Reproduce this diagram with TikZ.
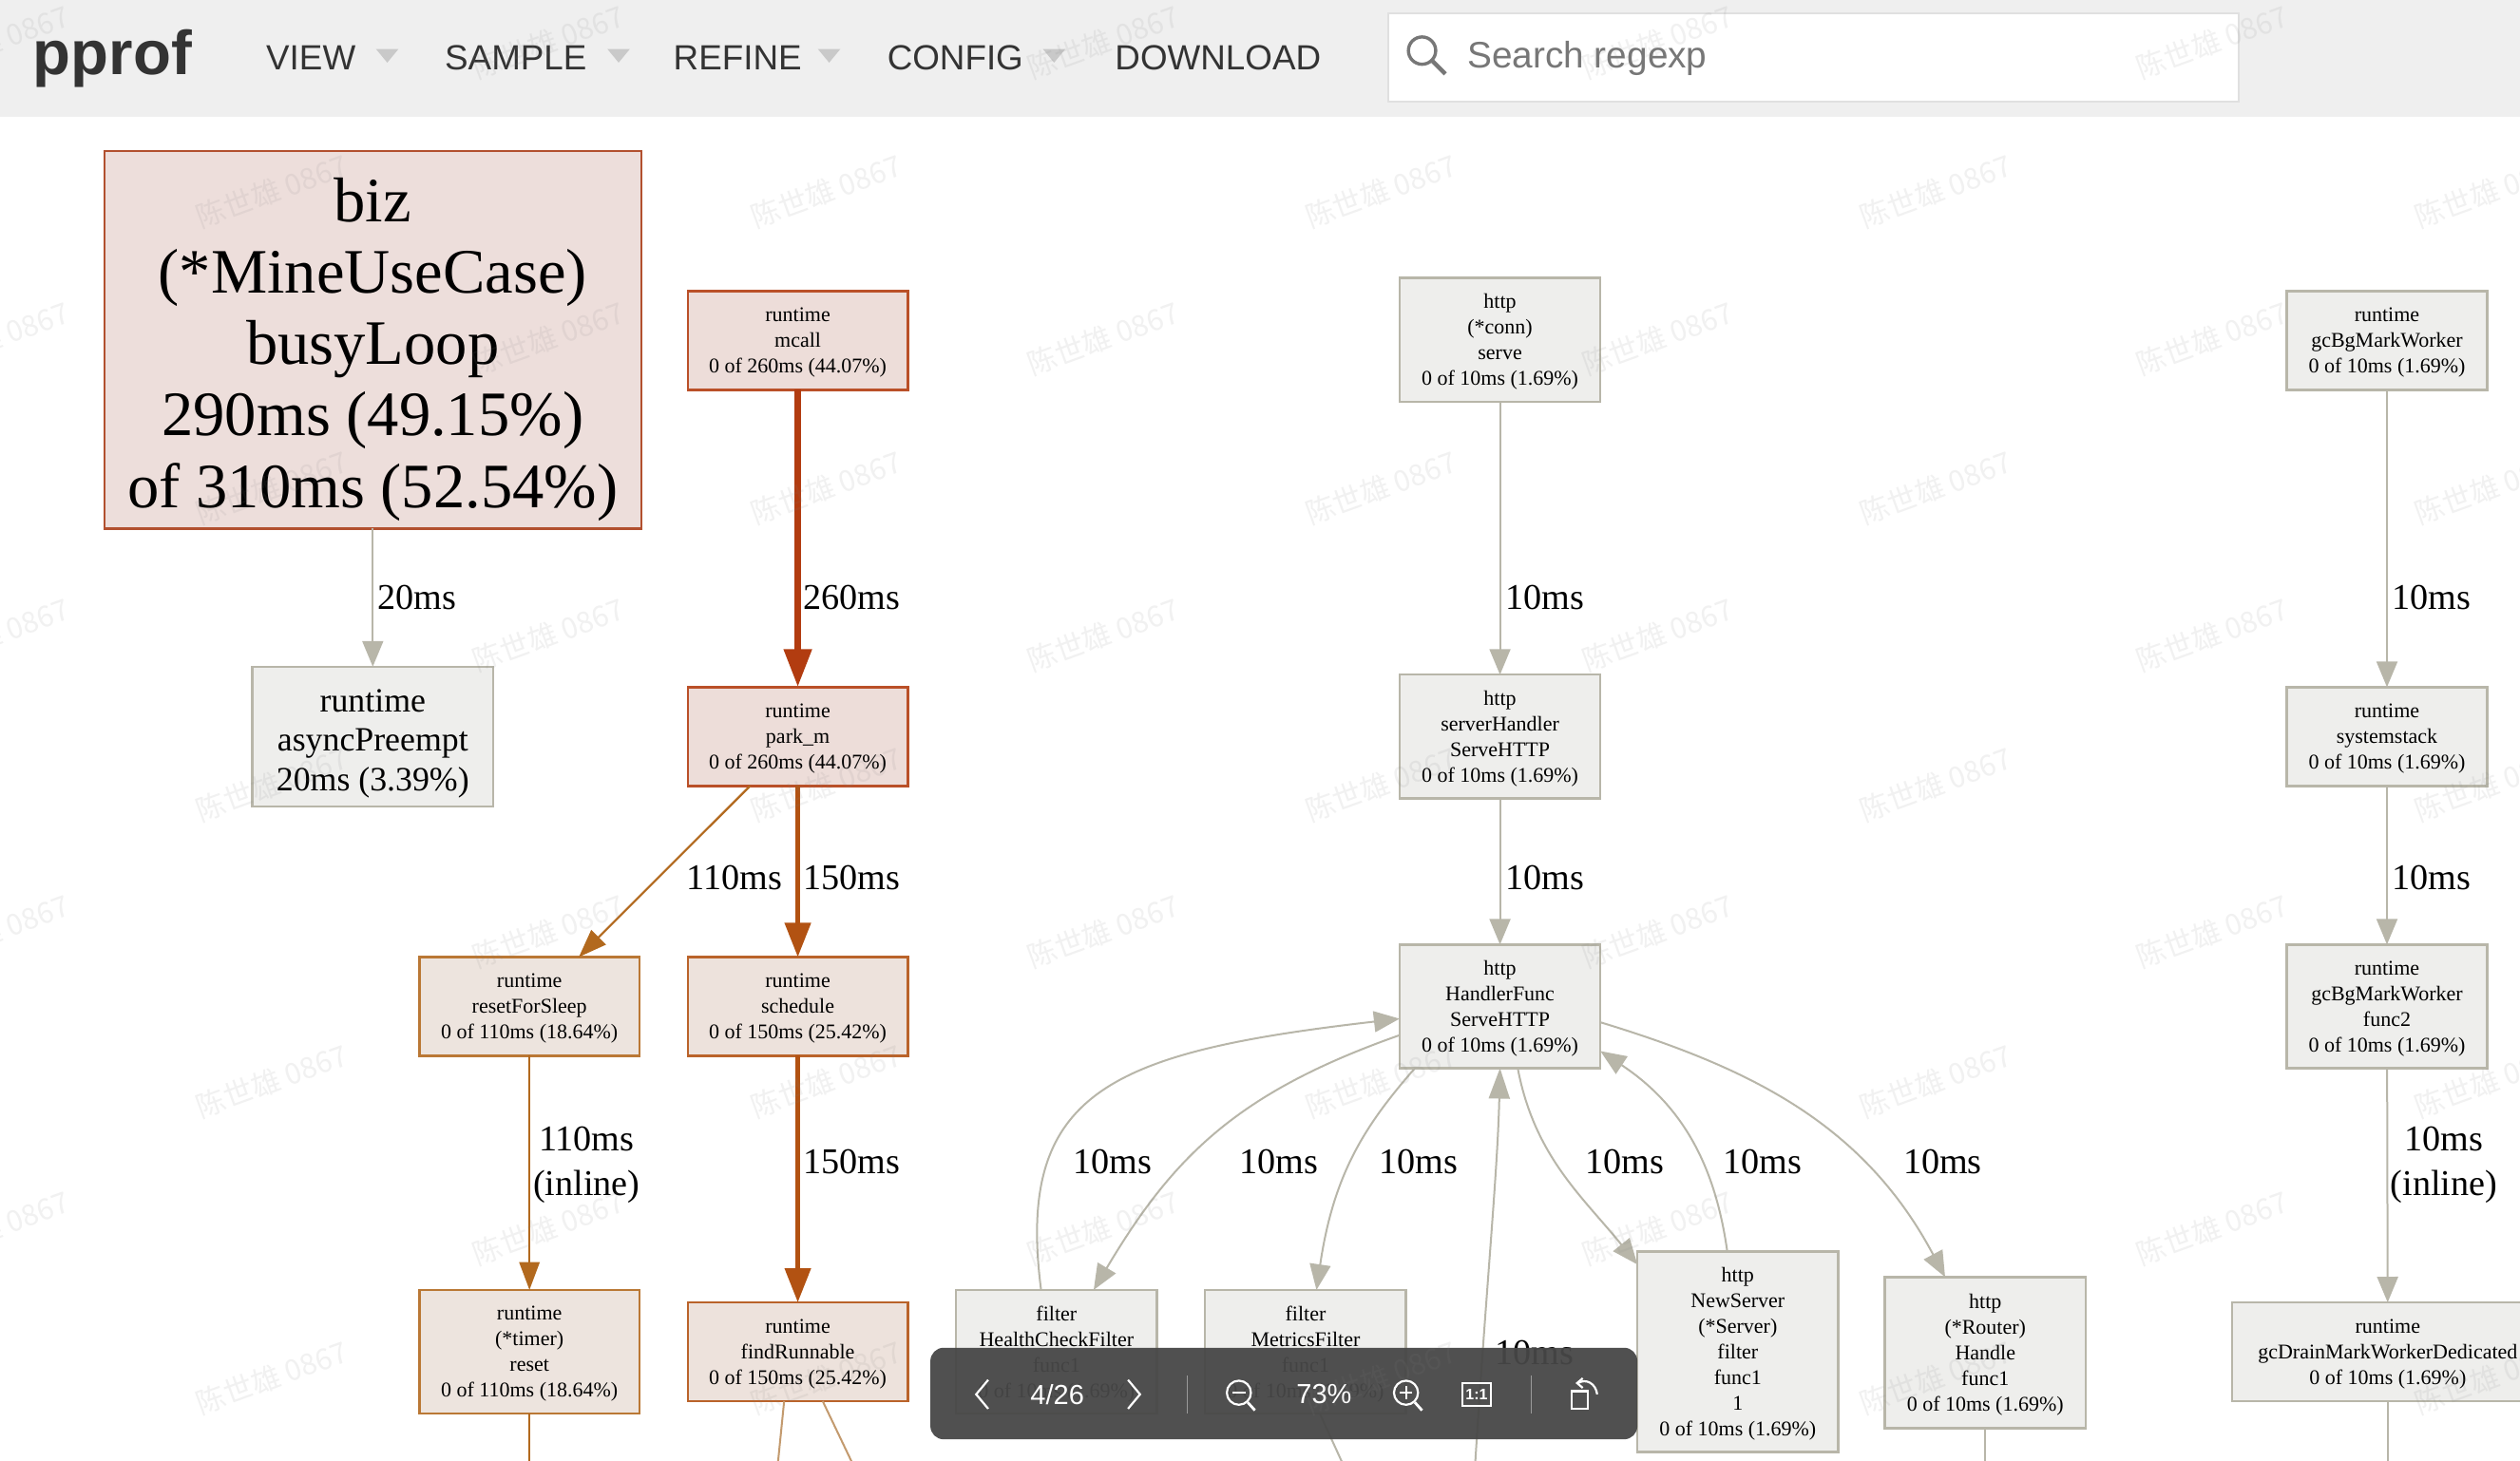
\documentclass[tikz,border=0pt]{standalone}
\usepackage{fontspec}
\setmainfont{Liberation Serif}
\newfontfamily\uifont{Liberation Sans}
\newfontfamily\wmfont{Noto Sans CJK SC}
\usetikzlibrary{arrows.meta}
\definecolor{barbg}{HTML}{EFEFEF}
\definecolor{bartext}{HTML}{333333}
\definecolor{bartri}{HTML}{C9C9C9}
\definecolor{searchtext}{HTML}{777777}
\definecolor{toolbg}{HTML}{474747}
\definecolor{greyline}{HTML}{B8B6A9}
\definecolor{greyfill}{HTML}{EEEEEC}
\definecolor{mainline}{HTML}{B2502F}
\definecolor{mainfill}{HTML}{EDDEDB}
\definecolor{hotline}{HTML}{B23C10}
\definecolor{hotfill}{HTML}{EDDDD9}
\definecolor{warmline}{HTML}{B25212}
\definecolor{warmfill}{HTML}{EDE2DC}
\definecolor{tanline}{HTML}{B2691E}
\definecolor{tanfill}{HTML}{EDE4DE}
\definecolor{paleline}{HTML}{C39A6E}

\begin{document}
\begin{tikzpicture}[x=0.84566pt,y=-0.84566pt]
\tikzstyle{box}=[rectangle,align=center,inner sep=0pt,outer sep=0pt,line width=1.2pt,text depth=0pt,font=\fontsize{11}{13.5}\selectfont]
\tikzstyle{boxgrey}=[box,draw=greyline,fill=greyfill,minimum width=105.7pt,minimum height=65.1pt]
\tikzstyle{boxhot}=[box,draw=hotline!90!white,fill=hotfill,minimum width=115.9pt,minimum height=52pt]
\tikzstyle{boxwarm}=[box,draw=warmline!90!white,fill=warmfill,minimum width=115.9pt,minimum height=52pt]
\tikzstyle{boxtan}=[box,draw=tanline!90!white,fill=tanfill,minimum width=115.9pt,minimum height=52pt]
\tikzstyle{edgegrey}=[draw=greyline,line width=1pt,-{Triangle[length=13.5pt,width=11pt]}]
\tikzstyle{edgetan}=[draw=tanline,line width=1.1pt,-{Triangle[length=14.7pt,width=10.7pt]}]
\tikzstyle{edgewarm}=[draw=warmline,line width=2.5pt,-{Triangle[length=18pt,width=13.4pt]}]
\tikzstyle{edgehot}=[draw=hotline,line width=3.8pt,-{Triangle[length=20pt,width=14pt]}]
\tikzstyle{elabel}=[inner sep=0pt,align=center,text depth=0pt,font=\fontsize{19.1}{23.5}\selectfont]
\tikzstyle{barlabel}=[inner sep=0pt,text=bartext,font=\uifont\fontsize{18.4}{22}\selectfont]
\tikzstyle{toollabel}=[inner sep=0pt,text=white,font=\uifont\fontsize{14.5}{18}\selectfont]
\tikzstyle{toolicon}=[draw=white,line width=1.1pt]
\tikzstyle{wmark}=[inner sep=0pt,rotate=20,text=gray,text opacity=0.11,font=\wmfont\fontsize{15.3}{18}\selectfont]

\useasboundingbox (0,0) rectangle (1568.3,909.35);
\clip (0,0) rectangle (1568.3,909.35);
\fill[white] (0,0) rectangle (1568.3,909.35);

% top bar
\fill[barbg] (0,0) rectangle (1568.3,72.5);
\node[inner sep=0pt,anchor=base,text=bartext,font=\uifont\bfseries\fontsize{32.7}{36}\selectfont] (logo) at (70,46.5) {pprof};
\node[barlabel] (view) at (193.5,36) {VIEW};
\node[barlabel] (sample) at (321,36) {SAMPLE};
\node[barlabel] (refine) at (459,36) {REFINE};
\node[barlabel] (config) at (594.5,36) {CONFIG};
\node[barlabel] (download) at (758,36) {DOWNLOAD};
\foreach \x in {241,385,516,656}
{
  \fill[bartri] (\x-7,30.5) -- (\x+7,30.5) -- (\x,39) -- cycle;
}
\draw[draw=black!12,line width=1pt,fill=white] (864,8.5) rectangle (1393,63);
\draw[searchtext,line width=1.7pt] (885,31.5) circle (8.5);
\draw[searchtext,line width=2.2pt] (891.5,38) -- (899.5,46);
\node[inner sep=0pt,anchor=west,text=searchtext,font=\uifont\fontsize{19.4}{23}\selectfont] (search) at (913,36.5) {Search regexp};

% left column
\node[box,draw=mainline,fill=mainfill,minimum width=282.5pt,minimum height=198.7pt,font=\fontsize{33.3}{37.6}\selectfont] (biz) at (232,211.5)
  {\rule{0pt}{26pt}biz\\(*MineUseCase)\\busyLoop\\290ms (49.15\%)\\of 310ms (52.54\%)};
\node[box,draw=greyline,fill=greyfill,minimum width=126.8pt,minimum height=73.6pt,font=\fontsize{17.9}{20.7}\selectfont] (asyncp) at (232,458.5)
  {\rule{0pt}{15.6pt}runtime\\asyncPreempt\\20ms (3.39\%)};

\node[boxhot] (mcall) at (496.5,212) {runtime\\mcall\\0 of 260ms (44.07\%)};
\node[boxhot] (parkm) at (496.5,458.5) {runtime\\park\_m\\0 of 260ms (44.07\%)};
\node[boxtan] (resetsleep) at (329.5,626.5) {runtime\\resetForSleep\\0 of 110ms (18.64\%)};
\node[boxwarm] (schedule) at (496.5,626.5) {runtime\\schedule\\0 of 150ms (25.42\%)};
\node[boxtan,minimum height=65.1pt] (timerreset) at (329.5,841.5) {runtime\\(*timer)\\reset\\0 of 110ms (18.64\%)};
\node[boxwarm] (findrun) at (496.5,841.5) {runtime\\findRunnable\\0 of 150ms (25.42\%)};

% http column
\node[boxgrey] (connserve) at (933.5,211.5) {http\\(*conn)\\serve\\0 of 10ms (1.69\%)};
\node[boxgrey] (servehandler) at (933.5,458.5) {http\\serverHandler\\ServeHTTP\\0 of 10ms (1.69\%)};
\node[boxgrey] (handlerfunc) at (933.5,626.5) {http\\HandlerFunc\\ServeHTTP\\0 of 10ms (1.69\%)};
\node[boxgrey] (healthfilter) at (657.5,841.5) {filter\\HealthCheckFilter\\func1\\0 of 10ms (1.69\%)};
\node[boxgrey] (metricsfilter) at (812.5,841.5) {filter\\MetricsFilter\\func1\\0 of 10ms (1.69\%)};
\node[boxgrey,minimum height=105.7pt] (newserver) at (1081.5,841.5) {http\\NewServer\\(*Server)\\filter\\func1\\1\\0 of 10ms (1.69\%)};
\node[boxgrey,minimum height=79.5pt] (routerh) at (1235.5,842) {http\\(*Router)\\Handle\\func1\\0 of 10ms (1.69\%)};

% gc column
\node[boxgrey,minimum height=52pt] (gcworker) at (1485.5,212) {runtime\\gcBgMarkWorker\\0 of 10ms (1.69\%)};
\node[boxgrey,minimum height=52pt] (systemstack) at (1485.5,458.5) {runtime\\systemstack\\0 of 10ms (1.69\%)};
\node[boxgrey] (gcfunc) at (1485.5,626.5) {runtime\\gcBgMarkWorker\\func2\\0 of 10ms (1.69\%)};
\node[boxgrey,minimum width=164pt,minimum height=52pt] (gcdrain) at (1486,841.5) {runtime\\gcDrainMarkWorkerDedicated\\0 of 10ms (1.69\%)};

% free ends at the bottom
\coordinate (resetout) at (329.5,912);
\coordinate (findoutl) at (484,912);
\coordinate (findoutr) at (531,912);
\coordinate (metricsout) at (836,912);
\coordinate (handlerin) at (918,912);
\coordinate (routerout) at (1235.5,912);
\coordinate (gcdrainout) at (1486,912);

\draw[edgegrey] (biz) -- (asyncp);
\draw[edgehot] (mcall) -- (parkm);
\draw[edgetan] (parkm.226) -- (resetsleep.45);
\draw[edgewarm] (parkm) -- (schedule);
\draw[edgetan] (resetsleep) -- (timerreset);
\draw[edgewarm] (schedule) -- (findrun);
\draw[tanline,line width=1.1pt] (timerreset) -- (resetout);
\draw[paleline,line width=1pt] (findrun.south -| findoutl) ++(4,0) -- (findoutl);
\draw[paleline,line width=1pt] (findrun.south -| findoutr) ++(-19,0) -- (findoutr);

\draw[edgegrey] (connserve) -- (servehandler);
\draw[edgegrey] (servehandler) -- (handlerfunc);
\draw[edgegrey] (gcworker) -- (systemstack);
\draw[edgegrey] (systemstack) -- (gcfunc);
\draw[edgegrey] (gcfunc) -- (gcdrain);
\draw[draw=greyline,line width=1pt] (gcdrain) -- (gcdrainout);
\draw[draw=greyline,line width=1pt] (routerh) -- (routerout);
\draw[draw=greyline,line width=1pt] (metricsfilter.283) -- (metricsout);

\draw[edgegrey] (healthfilter.104) .. controls (632,680) and (690,655) .. (handlerfunc.187);
\draw[edgegrey] (handlerfunc.196) .. controls (770,680) and (730,720) .. (healthfilter.59);
\draw[edgegrey] (handlerfunc.216) .. controls (850,700) and (830,730) .. (metricsfilter.80);
\draw[edgegrey,-{Triangle[length=16pt,width=11pt]}] (handlerin) .. controls (925,800) and (932,730) .. (handlerfunc.south);
\draw[edgegrey] (handlerfunc.-74) .. controls (955,720) and (985,745) .. (newserver.139);
\draw[edgegrey] (newserver.96) .. controls (1068,730) and (1050,690) .. (handlerfunc.-24);
\draw[edgegrey] (handlerfunc.-9) .. controls (1090,665) and (1160,700) .. (routerh.118);

% edge labels
\node[elabel] (lbiz) at (259.5,372) {20ms};
\node[elabel] (lmcall) at (530,372) {260ms};
\node[elabel] (lconn) at (961.5,372) {10ms};
\node[elabel] (lgcworker) at (1513,372) {10ms};
\node[elabel] (lresetsleep) at (457,546) {110ms};
\node[elabel] (lschedule) at (530,546) {150ms};
\node[elabel] (lserve) at (961.5,546) {10ms};
\node[elabel] (lsystem) at (1513,546) {10ms};
\node[elabel] (ltimer) at (365,723) {110ms\\(inline)};
\node[elabel] (lfind) at (530,723) {150ms};
\node[elabel] (lhealthup) at (692.5,723) {10ms};
\node[elabel] (lhealth) at (796,723) {10ms};
\node[elabel] (lmetrics) at (883,723) {10ms};
\node[elabel] (lnew) at (1011,723) {10ms};
\node[elabel] (lnewup) at (1097,723) {10ms};
\node[elabel] (lrouter) at (1209,723) {10ms};
\node[elabel] (lgcfunc) at (1521,723) {10ms\\(inline)};
\node[elabel] (lhandlerin) at (955,842) {10ms};

% image viewer toolbar
\fill[toolbg,fill opacity=0.95,rounded corners=7pt] (579,839) rectangle (1019,896);
\draw[toolicon] (615,859) -- (607.5,868) -- (615,877);
\draw[toolicon] (702,859) -- (709.5,868) -- (702,877);
\node[toollabel] (pagecount) at (658,868) {4/26};
\draw[white!45!toolbg,line width=0.8pt] (739,856) -- (739,880);
\draw[toolicon] (771,867) circle (7.5);
\draw[toolicon] (767,867) -- (775,867);
\draw[toolicon,line width=1.4pt] (776.5,873) -- (781,878);
\node[toollabel] (zoomlevel) at (824,868) {73\%};
\draw[toolicon] (875,867) circle (7.5);
\draw[toolicon] (871,867) -- (879,867) (875,863) -- (875,871);
\draw[toolicon,line width=1.4pt] (880.5,873) -- (885,878);
\draw[toolicon] (910,861) rectangle (928,875);
\node[toollabel,font=\uifont\bfseries\fontsize{8}{10}\selectfont] (oneone) at (919,868) {1:1};
\draw[white!45!toolbg,line width=0.8pt] (953,856) -- (953,880);
\draw[toolicon] (978,866) rectangle (988,877);
\draw[toolicon] (982,861) .. controls (987,858) and (993,861) .. (994,868);
\draw[toolicon] (985,858) -- (981.5,861) -- (985,864);

% watermark
\foreach \r in {0,...,4}
{
  \foreach \c in {0,...,4}
  {
    \node[wmark] (wma\r\c) at ({-4+345.2*\c},{26+184.6*\r}) {陈世雄 0867};
    \node[wmark] (wmb\r\c) at ({169+345.2*\c},{119+184.6*\r}) {陈世雄 0867};
  }
}

\end{tikzpicture}
\end{document}
